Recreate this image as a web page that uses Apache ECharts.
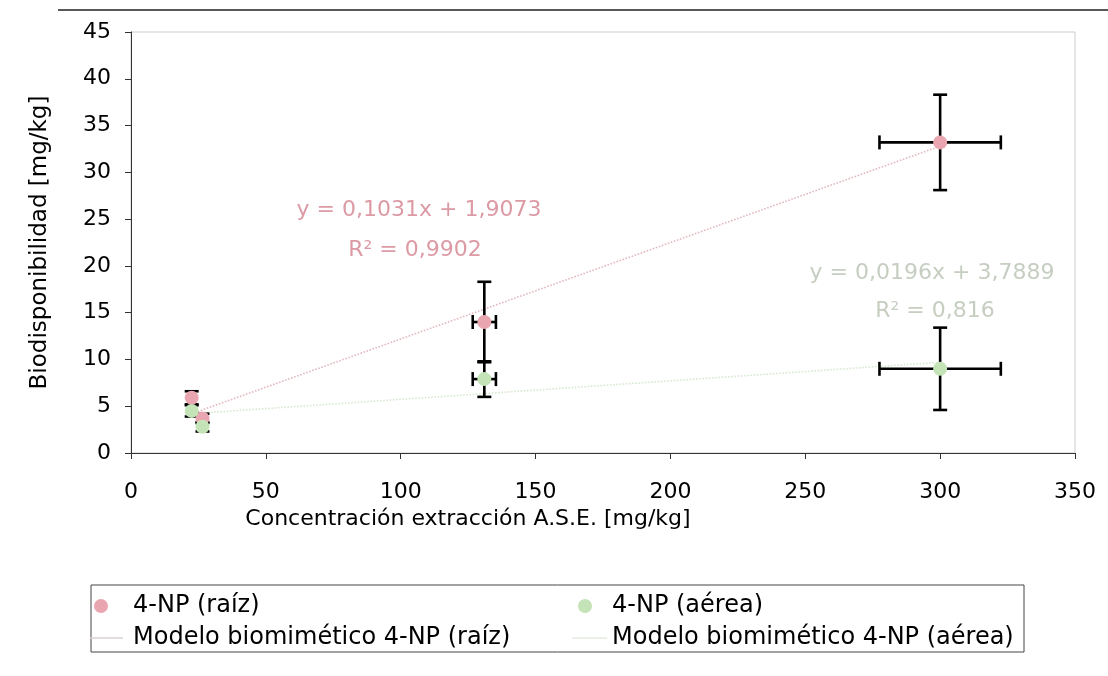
<!DOCTYPE html>
<html>
<head>
<meta charset="utf-8">
<script src="https://cdn.jsdelivr.net/npm/echarts@6/dist/echarts.min.js"></script>
<style>
  html, body { margin: 0; padding: 0; background: #fff; }
  #chart { width: 1108px; height: 676px; }
</style>
</head>
<body>
<div id="chart"></div>
<script>
// datos
var xRaiz = [22.5, 26.5, 131, 300];
var yRaiz = [5.9, 3.7, 14.0, 33.2];
var xErrRaiz = [0, 0, 4.3, 22.5];
var yErrRaiz = [0.7, 0.5, 4.3, 5.1];

var xAerea = [22.5, 26.5, 131, 300];
var yAerea = [4.5, 2.8, 7.9, 9.0];
var xErrAerea = [0, 0, 4.3, 22.5];
var yErrAerea = [0.6, 0.5, 1.9, 4.4];

// extremos de las lineas de tendencia
var trendRaiz = [[22.5, 4.2], [300, 32.8]];
var trendAerea = [[22.5, 4.2], [300, 9.7]];

var eqRaiz = ['y = 0,1031x + 1,9073', 'R\u00b2 = 0,9902'];
var eqAerea = ['y = 0,0196x + 3,7889', 'R\u00b2 = 0,816'];

var xTicks = {min: 0, max: 350, interval: 50};
var yTicks = {min: 0, max: 45, interval: 5};

var FONT = 'DejaVu Sans';

function zip(xs, ys) {
  return xs.map(function (x, i) { return [x, ys[i]]; });
}
function zipErr(xs, ys, xe, ye) {
  return xs.map(function (x, i) { return [x, ys[i], xe[i], ye[i]]; });
}

// barras de error
function errRender(params, api) {
  var x = api.value(0), y = api.value(1), xe = api.value(2), ye = api.value(3);
  var l = api.coord([x - xe, y]), r = api.coord([x + xe, y]);
  var t = api.coord([x, y + ye]), b = api.coord([x, y - ye]);
  var cap = 7;
  var st = {stroke: '#000', lineWidth: 2.6};
  function ln(x1, y1, x2, y2) {
    return {type: 'line', shape: {x1: x1, y1: y1, x2: x2, y2: y2}, style: st};
  }
  var kids = [
    ln(t[0], t[1], b[0], b[1]),
    ln(t[0] - cap, t[1], t[0] + cap, t[1]),
    ln(b[0] - cap, b[1], b[0] + cap, b[1])
  ];
  if (xe > 0) {
    kids.push(ln(l[0], l[1], r[0], r[1]));
    kids.push(ln(l[0], l[1] - cap, l[0], l[1] + cap));
    kids.push(ln(r[0], r[1] - cap, r[0], r[1] + cap));
  }
  return {type: 'group', children: kids};
}

var chart = echarts.init(document.getElementById('chart'));

var legendText = {color: '#000', fontFamily: FONT, fontSize: 24};

chart.setOption({
  backgroundColor: '#fff',
  animation: false,
  grid: {
    left: 131, right: 33, top: 32, bottom: 223,
    show: true, borderColor: '#cdcdcd', borderWidth: 1
  },
  xAxis: {
    type: 'value',
    min: xTicks.min, max: xTicks.max, interval: xTicks.interval,
    name: 'Concentración extracción A.S.E. [mg/kg]',
    nameLocation: 'middle',
    nameGap: 55,
    nameTextStyle: {color: '#000', fontFamily: FONT, fontSize: 22, padding: [0, 270, 0, 0]},
    axisLine: {lineStyle: {color: '#333', width: 1}},
    axisTick: {inside: false, length: 6, lineStyle: {color: '#333'}},
    axisLabel: {color: '#000', fontFamily: FONT, fontSize: 22, margin: 28},
    splitLine: {show: false}
  },
  yAxis: {
    type: 'value',
    min: yTicks.min, max: yTicks.max, interval: yTicks.interval,
    name: 'Biodisponibilidad [mg/kg]',
    nameLocation: 'middle',
    nameGap: 79,
    nameTextStyle: {color: '#000', fontFamily: FONT, fontSize: 23},
    axisLine: {show: true, lineStyle: {color: '#333', width: 1}},
    axisTick: {show: true, inside: false, length: 6, lineStyle: {color: '#333'}},
    axisLabel: {color: '#000', fontFamily: FONT, fontSize: 22, margin: 20},
    splitLine: {show: false}
  },
  legend: [
    {left: 94, top: 594, padding: 0, itemWidth: 14, itemHeight: 14, data: ['4-NP (raíz)'],
      textStyle: Object.assign({padding: [0, 0, 0, 20]}, legendText)},
    {left: 578, top: 594, padding: 0, itemWidth: 14, itemHeight: 14, data: ['4-NP (aérea)'],
      textStyle: Object.assign({padding: [0, 0, 0, 15]}, legendText)},
    {left: 90, top: 626, padding: 0, itemWidth: 33, itemHeight: 1.5, icon: 'rect',
      data: ['Modelo biomimético 4-NP (raíz)'],
      textStyle: Object.assign({padding: [0, 0, 0, 5]}, legendText)},
    {left: 572, top: 626, padding: 0, itemWidth: 35, itemHeight: 1.5, icon: 'rect',
      data: ['Modelo biomimético 4-NP (aérea)'],
      textStyle: legendText}
  ],
  graphic: [
    {type: 'line', shape: {x1: 58, y1: 10, x2: 1108, y2: 10}, style: {stroke: '#222', lineWidth: 1.5}},
    {type: 'rect', shape: {x: 91, y: 585, width: 933, height: 67}, style: {fill: 'none', stroke: '#444', lineWidth: 1}},
    {type: 'text', x: 419, y: 210, style: {text: eqRaiz[0], fill: '#dc9aa5', font: '22px "' + FONT + '"', align: 'center', verticalAlign: 'middle'}},
    {type: 'text', x: 415, y: 250, style: {text: eqRaiz[1], fill: '#dc9aa5', font: '22px "' + FONT + '"', align: 'center', verticalAlign: 'middle'}},
    {type: 'text', x: 932, y: 273, style: {text: eqAerea[0], fill: '#c6cec1', font: '22px "' + FONT + '"', align: 'center', verticalAlign: 'middle'}},
    {type: 'text', x: 935, y: 311, style: {text: eqAerea[1], fill: '#c6cec1', font: '22px "' + FONT + '"', align: 'center', verticalAlign: 'middle'}}
  ],
  series: [
    {
      name: 'Modelo biomimético 4-NP (raíz)', type: 'line', data: trendRaiz,
      symbol: 'none', z: 1,
      lineStyle: {color: '#e2b9bf', width: 1.6, type: 'dotted'},
      itemStyle: {color: '#d9d0d2'}
    },
    {
      name: 'Modelo biomimético 4-NP (aérea)', type: 'line', data: trendAerea,
      symbol: 'none', z: 1,
      lineStyle: {color: '#d8e8d2', width: 1.6, type: 'dotted'},
      itemStyle: {color: '#e4ebe2'}
    },
    {type: 'custom', renderItem: errRender, data: zipErr(xRaiz, yRaiz, xErrRaiz, yErrRaiz), z: 2, silent: true},
    {type: 'custom', renderItem: errRender, data: zipErr(xAerea, yAerea, xErrAerea, yErrAerea), z: 2, silent: true},
    {
      name: '4-NP (raíz)', type: 'scatter', data: zip(xRaiz, yRaiz),
      symbol: 'circle', symbolSize: 14, z: 3,
      itemStyle: {color: '#eaa6b0', opacity: 1}
    },
    {
      name: '4-NP (aérea)', type: 'scatter', data: zip(xAerea, yAerea),
      symbol: 'circle', symbolSize: 14, z: 3,
      itemStyle: {color: '#c4e4b8', opacity: 1}
    }
  ]
});
</script>
</body>
</html>
